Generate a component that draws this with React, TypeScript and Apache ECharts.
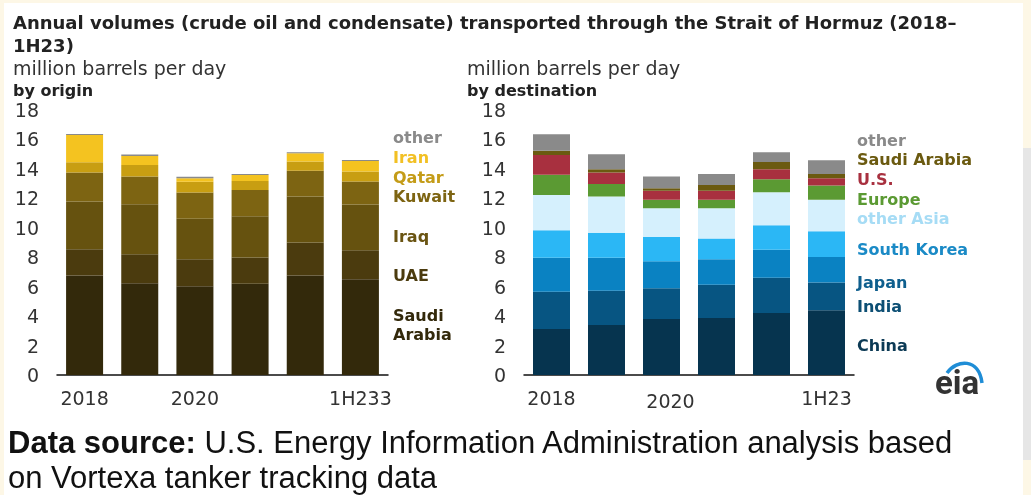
import React, { useEffect, useRef } from "react";
import * as echarts from "echarts";

const years = ["2018", "2019", "2020", "2021", "2022", "1H23"];
const yTicks = [0, 2, 4, 6, 8, 10, 12, 14, 16, 18];
const leftTickLabels = ["2018", "", "2020", "", "", "1H233"];
const rightTickLabels = ["2018", "", "2020", "", "", "1H23"];

// by origin (million barrels per day)
const saudiOrigin = [6.76, 6.24, 6.02, 6.2, 6.76, 6.51];
const uaeOrigin = [1.79, 1.97, 1.85, 1.78, 2.24, 1.97];
const iraqOrigin = [3.23, 3.39, 2.74, 2.81, 3.12, 3.1];
const kuwaitOrigin = [1.97, 1.88, 1.78, 1.78, 1.76, 1.56];
const qatarOrigin = [0.7, 0.79, 0.73, 0.61, 0.62, 0.68];
const iranOrigin = [1.85, 0.61, 0.25, 0.41, 0.56, 0.72];
const otherOrigin = [0.07, 0.09, 0.09, 0.07, 0.07, 0.07];

// by destination (million barrels per day)
const chinaDest = [3.12, 3.39, 3.8, 3.87, 4.21, 4.39];
const indiaDest = [2.53, 2.33, 2.1, 2.26, 2.39, 1.9];
const japanDest = [2.31, 2.24, 1.83, 1.74, 1.9, 1.72];
const koreaDest = [1.88, 1.7, 1.65, 1.4, 1.68, 1.76];
const otherAsiaDest = [2.39, 2.46, 1.95, 2.06, 2.24, 2.13];
const europeDest = [1.38, 0.86, 0.57, 0.57, 0.88, 0.97];
const usDest = [1.34, 0.77, 0.61, 0.61, 0.68, 0.5];
const saudiDest = [0.29, 0.23, 0.18, 0.4, 0.49, 0.29];
const otherDest = [1.11, 1.01, 0.79, 0.75, 0.66, 0.93];

const originSeries = [
  { name: "Saudi Arabia", data: saudiOrigin, color: "#33290b" },
  { name: "UAE", data: uaeOrigin, color: "#4b3b0e" },
  { name: "Iraq", data: iraqOrigin, color: "#66520f" },
  { name: "Kuwait", data: kuwaitOrigin, color: "#7d6412" },
  { name: "Qatar", data: qatarOrigin, color: "#c89e12" },
  { name: "Iran", data: iranOrigin, color: "#f4c320" },
  { name: "other", data: otherOrigin, color: "#8a8a8a" },
];

const destSeries = [
  { name: "China", data: chinaDest, color: "#06344f" },
  { name: "India", data: indiaDest, color: "#075582" },
  { name: "Japan", data: japanDest, color: "#0a82c2" },
  { name: "South Korea", data: koreaDest, color: "#2bb7f5" },
  { name: "other Asia", data: otherAsiaDest, color: "#d5f0fd" },
  { name: "Europe", data: europeDest, color: "#5b9a33" },
  { name: "U.S.", data: usDest, color: "#a8303f" },
  { name: "Saudi Arabia", data: saudiDest, color: "#6b5a10" },
  { name: "other", data: otherDest, color: "#8a8a8a" },
];

const leftLabels = [
  { t: "other", y: 137, c: "#8a8a8a" },
  { t: "Iran", y: 157, c: "#f2c024" },
  { t: "Qatar", y: 177, c: "#c49c18" },
  { t: "Kuwait", y: 196, c: "#7d6412" },
  { t: "Iraq", y: 236, c: "#6a5412" },
  { t: "UAE", y: 275, c: "#4b3b0e" },
  { t: "Saudi", y: 315, c: "#33290b" },
  { t: "Arabia", y: 334, c: "#33290b" },
];

const rightLabels = [
  { t: "other", y: 140, c: "#8a8a8a" },
  { t: "Saudi Arabia", y: 159, c: "#6b5a10" },
  { t: "U.S.", y: 179, c: "#a8303f" },
  { t: "Europe", y: 199, c: "#5b9a33" },
  { t: "other Asia", y: 218, c: "#a6dcf5" },
  { t: "South Korea", y: 249, c: "#1a8ac6" },
  { t: "Japan", y: 282, c: "#0f5f8e" },
  { t: "India", y: 306, c: "#0d4f74" },
  { t: "China", y: 345, c: "#0c3a55" },
];

const FONT = '"DejaVu Sans", sans-serif';
const SRC_FONT = '"Liberation Sans", sans-serif';

export default function App() {
  const ref = useRef<HTMLDivElement>(null);
  useEffect(() => {
    if (!ref.current) return;
    const chart = echarts.init(ref.current, undefined, { renderer: "svg" });

    const txt = (text: string, x: number, y: number, size: number, weight: string, color: string, family = FONT) => ({
      type: "text",
      z: 10,
      style: { text, x, y, fontSize: size, fontWeight: weight, fontFamily: family, fill: color, align: "left", verticalAlign: "middle" },
    });

    const yAxisCommon = {
      type: "value",
      min: yTicks[0],
      max: yTicks[yTicks.length - 1],
      interval: 2,
      splitLine: { show: false },
      axisLine: { show: false },
      axisTick: { show: false },
      axisLabel: { color: "#333", fontSize: 19, fontFamily: FONT, margin: 18 },
    };

    const xAxisCommon = {
      type: "category",
      data: years,
      axisTick: { show: false },
      axisLine: { show: true, lineStyle: { color: "#111", width: 1.5 } },
    };

    const option: any = {
      animation: false,
      backgroundColor: "transparent",
      grid: [
        { left: 57, top: 110, width: 331, height: 265 },
        { left: 524, top: 110, width: 330, height: 265 },
      ],
      xAxis: [
        {
          ...xAxisCommon,
          gridIndex: 0,
          axisLabel: {
            interval: 0,
            color: "#333",
            fontSize: 19,
            fontFamily: FONT,
            margin: 13,
            formatter: (_v: string, i: number) => leftTickLabels[i],
          },
        },
        {
          ...xAxisCommon,
          gridIndex: 1,
          axisLabel: {
            interval: 0,
            color: "#333",
            fontSize: 19,
            fontFamily: FONT,
            margin: 13,
            formatter: (_v: string, i: number) => (i === 2 ? "{s|" + rightTickLabels[i] + "}" : rightTickLabels[i]),
            rich: { s: { fontSize: 19, fontFamily: FONT, color: "#333", padding: [3, 0, 0, 18] } },
          },
        },
      ],
      yAxis: [
        { ...yAxisCommon, gridIndex: 0 },
        { ...yAxisCommon, gridIndex: 1 },
      ],
      series: [
        ...originSeries.map((s) => ({
          type: "bar",
          name: "o-" + s.name,
          stack: "origin",
          xAxisIndex: 0,
          yAxisIndex: 0,
          barWidth: 37,
          data: s.data,
          itemStyle: { color: s.color },
        })),
        ...destSeries.map((s) => ({
          type: "bar",
          name: "d-" + s.name,
          stack: "dest",
          xAxisIndex: 1,
          yAxisIndex: 1,
          barWidth: 37,
          data: s.data,
          itemStyle: { color: s.color },
        })),
      ],
      graphic: [
        { type: "rect", z: -10, shape: { x: 0, y: 0, width: 1031, height: 495 }, style: { fill: "#fdf7e6" } },
        { type: "rect", z: -9, shape: { x: 4, y: 3, width: 1019, height: 492 }, style: { fill: "#ffffff" } },
        { type: "rect", z: -8, shape: { x: 1023, y: 148, width: 8, height: 312 }, style: { fill: "#e6e6e6" } },
        txt("Annual volumes (crude oil and condensate) transported through the Strait of Hormuz (2018–", 13, 22, 18, "bold", "#222"),
        txt("1H23)", 13, 45, 18, "bold", "#222"),
        txt("million barrels per day", 13, 68, 19, "normal", "#333"),
        txt("by origin", 13, 90, 16, "bold", "#222"),
        txt("million barrels per day", 467, 68, 19, "normal", "#333"),
        txt("by destination", 467, 90, 16, "bold", "#222"),
        ...leftLabels.map((l) => txt(l.t, 393, l.y, 16, "bold", l.c)),
        ...rightLabels.map((l) => txt(l.t, 857, l.y, 16, "bold", l.c)),
        {
          type: "text",
          z: 10,
          style: {
            text: "{b|Data source:} U.S. Energy Information Administration analysis based",
            x: 8,
            y: 442,
            fontSize: 31,
            fontFamily: SRC_FONT,
            fill: "#111",
            align: "left",
            verticalAlign: "middle",
            rich: { b: { fontSize: 31, fontWeight: "bold", fontFamily: SRC_FONT, fill: "#111" } },
          },
        },
        txt("on Vortexa tanker tracking data", 8, 477, 31, "normal", "#111", SRC_FONT),
        {
          type: "text",
          z: 10,
          style: { text: "eia", x: 957, y: 382, fontSize: 33, fontWeight: "bold", fontFamily: "Roboto, sans-serif", fill: "#333", align: "center", verticalAlign: "middle" },
        },
        {
          type: "bezierCurve",
          z: 11,
          shape: { x1: 947, y1: 373, cpx1: 957, cpy1: 359, cpx2: 979, cpy2: 358, x2: 982, y2: 383 },
          style: { stroke: "#1f8dd6", lineWidth: 3.5, fill: "none" },
        },
      ],
    };
    chart.setOption(option);
    return () => chart.dispose();
  }, []);

  return (
    <div style={{ position: "fixed", left: 0, top: 0, width: 1031, height: 495 }}>
      <div ref={ref} style={{ width: 1031, height: 495 }} />
    </div>
  );
}
